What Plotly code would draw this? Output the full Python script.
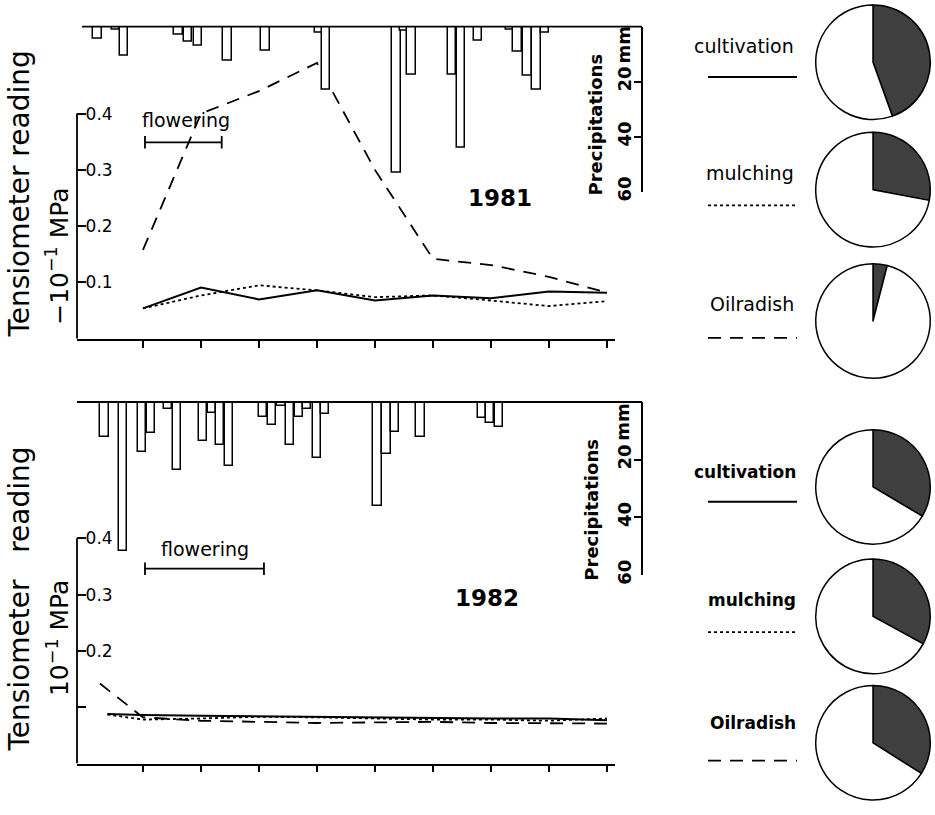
import plotly.graph_objects as go

W, H = 935, 815
FONT = "DejaVu Sans"

# ---------------- data ----------------
week_days = [7, 14, 21, 28, 35, 42, 49, 56, 63]

# 1981 tensiometer readings (-10^-1 MPa)
cult81 = [0.054, 0.091, 0.070, 0.086, 0.068, 0.077, 0.072, 0.084, 0.082]
mulch81 = [0.054, 0.077, 0.095, 0.086, 0.074, 0.077, 0.068, 0.058, 0.067]
oil81 = [0.158, 0.400, 0.440, 0.490, 0.300, 0.142, 0.131, 0.110, 0.082]

# 1982 tensiometer readings
days82 = [2.7, 7, 14, 21, 28, 35, 42, 49, 56, 63]
cult82 = [0.088, 0.086, 0.085, 0.084, 0.082, 0.082, 0.081, 0.080, 0.080, 0.077]
mulch82 = [0.087, 0.078, 0.080, 0.083, 0.082, 0.080, 0.078, 0.078, 0.076, 0.080]
oil_days82 = [1.8, 5.8, 7, 14, 21, 28, 35, 42, 49, 56, 63]
oil82 = [0.142, 0.097, 0.082, 0.076, 0.074, 0.072, 0.073, 0.074, 0.072, 0.071, 0.071]

# precipitation (mm)
rain_day81 = [1.5, 3.7, 4.7, 11.3, 12.4, 13.6, 17.2, 21.8, 28.2, 29.1, 37.6, 38.5,
              39.4, 44.3, 45.4, 47.4, 51.3, 52.2, 53.4, 54.5, 55.5]
rain_mm81 = [4.3, 1.0, 10.4, 3.0, 5.4, 6.8, 12.2, 8.6, 2.0, 23.0, 53.0, 1.5,
             17.6, 17.6, 44.0, 5.0, 1.0, 9.0, 18.0, 23.0, 2.0]
rain_day82 = [2.35, 4.6, 6.9, 8.0, 10.0, 11.1, 14.2, 15.3, 16.3, 17.4, 21.5, 22.6,
              23.7, 24.7, 25.8, 26.8, 28.0, 29.0, 35.3, 36.4, 37.4, 40.5, 47.9, 48.9, 50.0]
rain_mm82 = [12.0, 51.7, 17.5, 10.6, 2.4, 23.6, 13.7, 3.8, 15.0, 22.3, 5.1, 7.9,
             1.4, 15.0, 5.1, 2.4, 19.5, 4.0, 36.0, 18.0, 10.3, 12.3, 5.5, 7.2, 8.6]

# flowering periods (days) and level
flower81 = [7.24, 16.5]
flower82 = [7.24, 21.6]
flower_level81 = 0.349
flower_level82 = 0.346

# pie shares (dark part)
treatments = ["cultivation", "mulching", "Oilradish"]
pie81 = [0.445, 0.28, 0.04]
pie82 = [0.335, 0.33, 0.34]

tension_ticks = [0.1, 0.2, 0.3, 0.4]
tension_labels81 = ["0.1", "0.2", "0.3", "0.4"]
tension_labels82 = ["0.2", "0.3", "0.4"]
rain_ticks = [20, 40, 60]

# ---------------- helpers ----------------
def px(x):
    return x / W

def py(y):
    return 1 - y / H

X0, X1 = 77, 615
xr = [-0.965, 63.97]

fig = go.Figure()

styles = {
    "cultivation": dict(color="black", width=2),
    "mulching": dict(color="black", width=1.8, dash="3px,3px"),
    "Oilradish": dict(color="black", width=1.8, dash="13px,9px"),
}

# ---- top panel (1981)
fig.add_trace(go.Bar(x=rain_day81, y=rain_mm81, width=1.0, xaxis="x", yaxis="y2",
                     marker=dict(color="white", line=dict(color="black", width=1.5)),
                     showlegend=False, hoverinfo="skip"))
fig.add_trace(go.Scatter(x=week_days, y=oil81, mode="lines", line=styles["Oilradish"],
                         xaxis="x", yaxis="y", showlegend=False))
fig.add_trace(go.Scatter(x=week_days, y=mulch81, mode="lines", line=styles["mulching"],
                         xaxis="x", yaxis="y", showlegend=False))
fig.add_trace(go.Scatter(x=week_days, y=cult81, mode="lines", line=styles["cultivation"],
                         xaxis="x", yaxis="y", showlegend=False))
fig.add_trace(go.Scatter(x=flower81, y=[flower_level81] * 2, mode="lines+markers",
                         line=dict(color="black", width=1.8),
                         marker=dict(symbol="line-ns", size=9, line=dict(color="black", width=1.8)),
                         xaxis="x", yaxis="y", showlegend=False))

# ---- bottom panel (1982)
fig.add_trace(go.Bar(x=rain_day82, y=rain_mm82, width=1.0, xaxis="x2", yaxis="y4",
                     marker=dict(color="white", line=dict(color="black", width=1.5)),
                     showlegend=False, hoverinfo="skip"))
fig.add_trace(go.Scatter(x=oil_days82, y=oil82, mode="lines", line=styles["Oilradish"],
                         xaxis="x2", yaxis="y3", showlegend=False))
fig.add_trace(go.Scatter(x=days82, y=mulch82, mode="lines", line=styles["mulching"],
                         xaxis="x2", yaxis="y3", showlegend=False))
fig.add_trace(go.Scatter(x=days82, y=cult82, mode="lines", line=styles["cultivation"],
                         xaxis="x2", yaxis="y3", showlegend=False))
fig.add_trace(go.Scatter(x=flower82, y=[flower_level82] * 2, mode="lines+markers",
                         line=dict(color="black", width=1.8),
                         marker=dict(symbol="line-ns", size=9, line=dict(color="black", width=1.8)),
                         xaxis="x2", yaxis="y3", showlegend=False))

# ---- pies
pie_centers81 = [63, 192, 325]
pie_centers82 = [493, 624, 752]
R = 58
CX = 873
for shares, centers in ((pie81, pie_centers81), (pie82, pie_centers82)):
    for share, cy in zip(shares, centers):
        fig.add_trace(go.Pie(values=[share, 1 - share], sort=False, direction="clockwise",
                             rotation=0, textinfo="none", hoverinfo="skip", showlegend=False,
                             marker=dict(colors=["#3f3f3f", "white"], line=dict(color="black", width=1.5)),
                             domain=dict(x=[px(CX - R), px(CX + R)], y=[py(cy + R), py(cy - R)])))

# ---------------- axes ----------------
xcommon = dict(range=xr, tickvals=week_days, ticks="outside", ticklen=7, tickwidth=1.5,
               tickcolor="black", showticklabels=False, showline=True, linecolor="black",
               linewidth=1.8, showgrid=False, zeroline=False, domain=[px(X0), px(X1)])
ycommon = dict(ticks="inside", ticklen=9, tickwidth=1.5,
               tickcolor="black", ticklabelposition="inside", showline=False,
               showgrid=False, zeroline=False, tickfont=dict(family=FONT, size=17, color="black"))
rcommon = dict(range=[60, 0], tickvals=rain_ticks, ticktext=[str(v) for v in rain_ticks],
               ticks="inside", ticklen=7, tickwidth=1.5, tickcolor="black", side="right",
               ticklabelposition="inside", ticklabeloverflow="allow", tickangle=-90,
               showline=True, linecolor="black",
               linewidth=1.5, showgrid=False, zeroline=False, anchor="free", position=px(642),
               tickfont=dict(family=FONT, size=18, color="black", weight="bold"))

fig.update_layout(
    width=W, height=H, margin=dict(l=0, r=0, t=0, b=0),
    paper_bgcolor="white", plot_bgcolor="rgba(0,0,0,0)", bargap=0,
    xaxis=dict(anchor="y", **xcommon),
    yaxis=dict(anchor="x", domain=[py(343), py(27)], range=[0, (343 - 27) / 570],
               tickvals=tension_ticks, ticktext=tension_labels81, **ycommon),
    yaxis2=dict(domain=[py(194), py(27)], **rcommon),
    xaxis2=dict(anchor="y3", **xcommon),
    yaxis3=dict(anchor="x2", domain=[py(773), py(407)], range=[0, (773 - 407) / 570],
                tickvals=tension_ticks[1:], ticktext=tension_labels82,
                minor=dict(tickvals=tension_ticks[:1], ticks="inside", ticklen=9,
                           tickwidth=1.5, tickcolor="black", showgrid=False),
                **ycommon),
    yaxis4=dict(domain=[py(582), py(407)], **rcommon),
)

# ---------------- decorations ----------------
shapes = [
    dict(type="line", xref="x domain", yref="y", x0=0, x1=0, y0=0, y1=0.4,
         line=dict(color="black", width=1.8)),
    dict(type="line", xref="x2 domain", yref="y3", x0=0, x1=0, y0=0, y1=0.4,
         line=dict(color="black", width=1.8)),
    dict(type="line", xref="paper", yref="y2 domain", x0=px(82), x1=px(642), y0=1, y1=1,
         line=dict(color="black", width=1.8)),
    dict(type="line", xref="paper", yref="y4 domain", x0=px(77), x1=px(642), y0=1, y1=1,
         line=dict(color="black", width=1.8)),
]
legend_line_y81 = [78, 208, 342]
legend_line_y82 = [508, 640, 770]
for ys in (legend_line_y81, legend_line_y82):
    for name, y in zip(treatments, ys):
        st = styles[name]
        shapes.append(dict(type="line", xref="paper", yref="paper", x0=px(708), x1=px(797),
                           y0=py(y), y1=py(y),
                           line=dict(color="black", width=st["width"], dash=st.get("dash", "solid"))))
fig.update_layout(shapes=shapes)

ann = []
def text(x, y, s, size, angle=0, bold=False, xanchor="center"):
    ann.append(dict(x=px(x), y=py(y), xref="paper", yref="paper", text=s, showarrow=False,
                    textangle=angle, xanchor=xanchor, yanchor="middle",
                    font=dict(family=FONT, size=size, color="black",
                              weight="bold" if bold else "normal")))

text(20, 197, "Tensiometer reading", 28, -90)
text(58, 260, "\u221210<sup>\u22121</sup> MPa", 25, -90)
text(20, 607, "Tensiometer\u00a0\u00a0\u00a0reading", 28, -90)
text(58, 646, "10<sup>\u22121</sup> MPa", 25, -90)
text(595, 126, "Precipitations", 18, -90, bold=True)
text(623, 45, "mm", 18, -90, bold=True)
text(592, 516, "Precipitations", 18, -90, bold=True)
text(623, 427, "mm", 18, -90, bold=True)
text(500, 200, "1981", 23, bold=True)
text(487, 605, "1982", 23, bold=True)
text(186, 121, "flowering", 19)
text(205, 556, "flowering", 19)
for name, y in zip(treatments, [47, 175, 308]):
    ann.append(dict(x=px(796), y=py(y), xref="paper", yref="paper", text=name, showarrow=False,
                    xanchor="right", yanchor="middle",
                    font=dict(family=FONT, size=19, color="black")))
for name, y in zip(treatments, [478, 607, 732]):
    ann.append(dict(x=px(798), y=py(y), xref="paper", yref="paper", text=name, showarrow=False,
                    xanchor="right", yanchor="middle",
                    font=dict(family=FONT, size=17, color="black", weight="bold")))
fig.update_layout(annotations=ann)

fig.write_html("out.html", config={"displayModeBar": False},
               post_script="document.body.style.margin='0';")
